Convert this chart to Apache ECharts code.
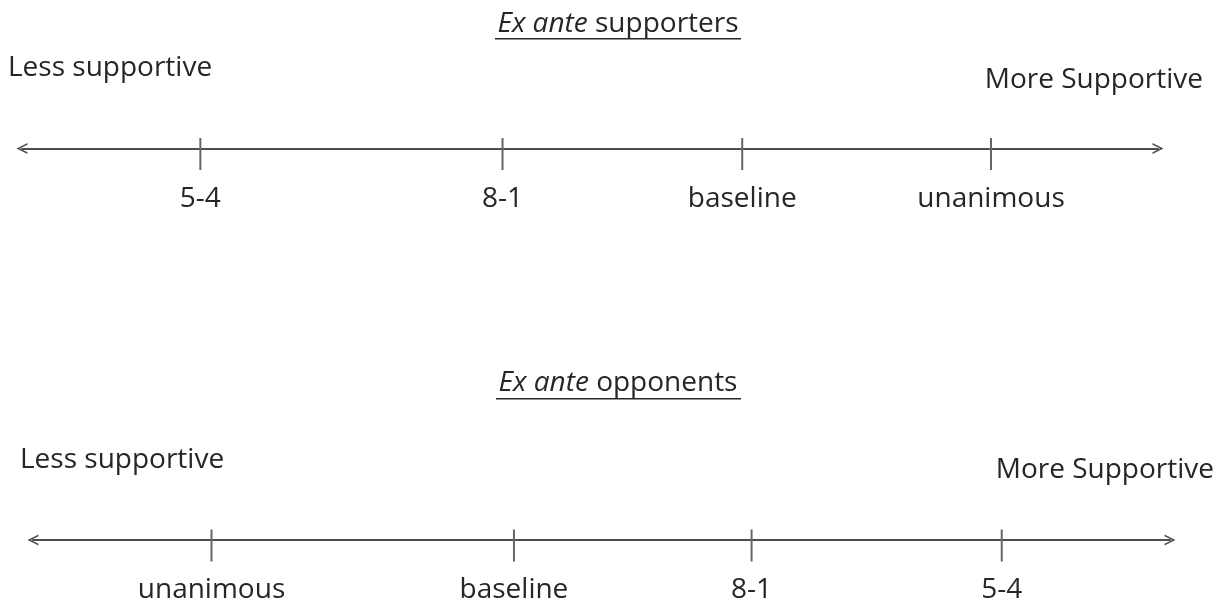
<!DOCTYPE html>
<html>
<head>
<meta charset="utf-8">
<script src="https://cdn.jsdelivr.net/npm/echarts@6/dist/echarts.min.js"></script>
<style>
html,body{margin:0;padding:0;background:#fff;}
#c{width:1225px;height:604px;}
</style>
</head>
<body>
<div id="c"></div>
<script>
// Top panel: ex ante supporters
const topCategories = ['5-4', '8-1', 'baseline', 'unanimous'];
const topPositions = [15.7, 42.3, 63.4, 85.3];
// Bottom panel: ex ante opponents
const bottomCategories = ['unanimous', 'baseline', '8-1', '5-4'];
const bottomPositions = [15.7, 42.3, 63.2, 85.2];
const panelTitles = [['Ex ante', 'supporters'], ['Ex ante', 'opponents']];
const leftLabel = 'Less supportive';
const rightLabel = 'More Supportive';

const FONT = 'Open Sans';
const FS = 28;
const TXT = '#262626';
const LINE = '#4d4d4d';
const TICK = '#666666';
const chevron = 'path://M0,100 L50,0 L100,100 L84,100 L50,30 L16,100 Z';

const chart = echarts.init(document.getElementById('c'), null, {renderer: 'canvas'});

function axis(gi) {
  return {
    type: 'value', gridIndex: gi, min: 0, max: 100,
    axisLine: {show: true, symbol: [chevron, chevron], symbolSize: [14, 11],
      lineStyle: {color: LINE, width: 2}},
    axisTick: {show: false}, axisLabel: {show: false}, splitLine: {show: false}
  };
}
function yaxis(gi) {
  return {type: 'value', gridIndex: gi, min: 0, max: 1, show: false};
}
function tickSeries(gi, cats, pos) {
  return {
    type: 'scatter', xAxisIndex: gi, yAxisIndex: gi,
    symbol: 'rect', symbolSize: [2, 32], symbolOffset: [0, 5.5],
    itemStyle: {color: TICK, opacity: 1},
    label: {show: true, position: 'bottom', distance: 15, formatter: '{b}',
      color: TXT, fontFamily: FONT, fontSize: FS},
    silent: true,
    data: cats.map((c, i) => ({name: c, value: [pos[i], 0]}))
  };
}
const rich = {
  i: {fontStyle: 'italic', fontFamily: FONT, fontSize: FS, fill: TXT},
  n: {fontFamily: FONT, fontSize: FS, fill: TXT}
};
function txt(x, y, s, align) {
  return {type: 'text', x: x, y: y, silent: true,
    style: {text: s, fill: TXT, font: FS + 'px "' + FONT + '"', align: align || 'left', verticalAlign: 'middle'}};
}
function titleText(x, y, parts) {
  return {type: 'text', x: x, y: y, silent: true,
    style: {text: '{i|' + parts[0] + ' }{n|' + parts[1] + '}', rich: rich, align: 'center', verticalAlign: 'middle'}};
}

chart.setOption({
  animation: false,
  grid: [
    {left: 22, width: 1136, top: 110, height: 38.5},
    {left: 33, width: 1137, top: 500, height: 40}
  ],
  xAxis: [axis(0), axis(1)],
  yAxis: [yaxis(0), yaxis(1)],
  series: [tickSeries(0, topCategories, topPositions), tickSeries(1, bottomCategories, bottomPositions)],
  graphic: [
    titleText(618, 24, panelTitles[0]),
    {type: 'rect', shape: {x: 495, y: 38, width: 246, height: 1.5}, style: {fill: TXT}, silent: true},
    txt(8, 68, leftLabel),
    txt(1203, 80, rightLabel, 'right'),
    titleText(618, 383, panelTitles[1]),
    {type: 'rect', shape: {x: 496, y: 398, width: 245, height: 1.5}, style: {fill: TXT}, silent: true},
    txt(20, 460, leftLabel),
    txt(1214, 470, rightLabel, 'right')
  ]
});
</script>
</body>
</html>
